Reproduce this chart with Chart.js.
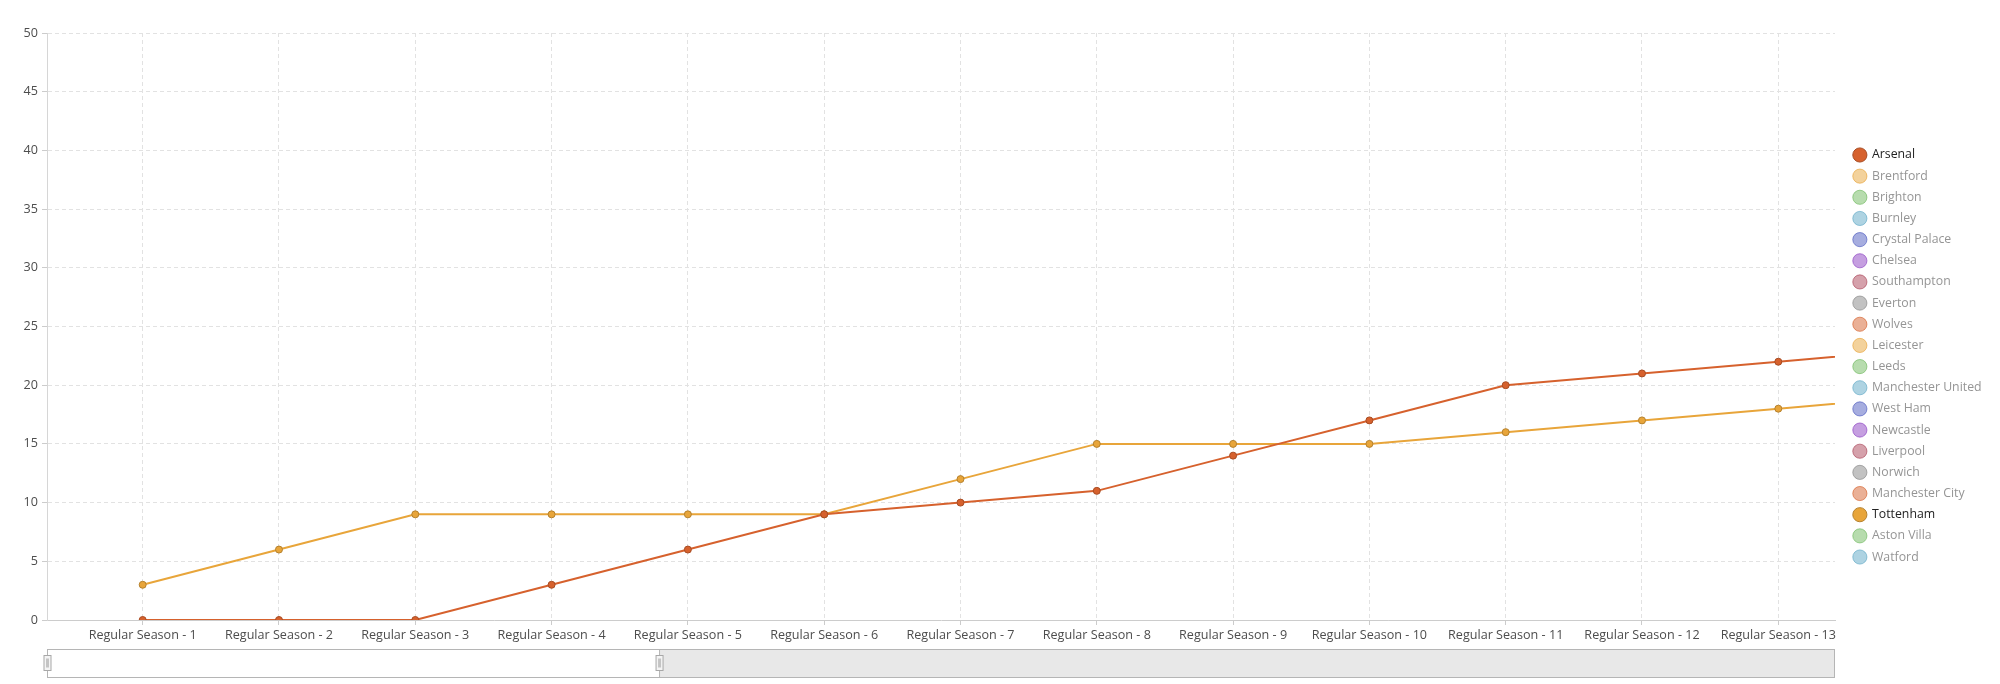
<!DOCTYPE html>
<html>
<head>
<meta charset="utf-8">
<script src="https://cdn.jsdelivr.net/npm/chart.js@4"></script>
<style>
  html, body { margin: 0; padding: 0; background: #fff; }
  #wrap { width: 2000px; height: 684px; position: relative; }
</style>
</head>
<body>
<div id="wrap"><canvas id="chartjs-0" width="2000" height="684"></canvas></div>
<script>
// round numbers on the x axis (14th is just past the visible window)
var rounds = [1, 2, 3, 4, 5, 6, 7, 8, 9, 10, 11, 12, 13, 14];
var roundLabels = ["Regular Season - 1", "Regular Season - 2", "Regular Season - 3", "Regular Season - 4",
  "Regular Season - 5", "Regular Season - 6", "Regular Season - 7", "Regular Season - 8",
  "Regular Season - 9", "Regular Season - 10", "Regular Season - 11", "Regular Season - 12",
  "Regular Season - 13", "Regular Season - 14"];

// cumulative points
var arsenalPts   = [0, 0, 0, 3, 6, 9, 10, 11, 14, 17, 20, 21, 22, 23];
var tottenhamPts = [3, 6, 9, 9, 9, 9, 12, 15, 15, 15, 16, 17, 18, 19];

var teams = ["Arsenal", "Brentford", "Brighton", "Burnley", "Crystal Palace", "Chelsea", "Southampton",
  "Everton", "Wolves", "Leicester", "Leeds", "Manchester United", "West Ham", "Newcastle", "Liverpool",
  "Norwich", "Manchester City", "Tottenham", "Aston Villa", "Watford"];
var palette = ["#d6612d", "#e8a53a", "#6fb95d", "#5da7c5", "#4d5bbf", "#8b3fc1", "#ab4357", "#858585"];
var teamData = { "Arsenal": arsenalPts, "Tottenham": tottenhamPts };

function hexA(hex, a) {
  var r = parseInt(hex.substr(1, 2), 16), g = parseInt(hex.substr(3, 2), 16), b = parseInt(hex.substr(5, 2), 16);
  return "rgba(" + r + "," + g + "," + b + "," + a + ")";
}
function darker(hex) {
  var r = parseInt(hex.substr(1, 2), 16), g = parseInt(hex.substr(3, 2), 16), b = parseInt(hex.substr(5, 2), 16);
  return "rgb(" + Math.round(r * 0.78) + "," + Math.round(g * 0.78) + "," + Math.round(b * 0.78) + ")";
}

var datasets = [];
for (var i = 0; i < teams.length; i++) {
  var c = palette[i % palette.length];
  var vals = teamData[teams[i]] || [];
  var pts = [];
  for (var k = 0; k < vals.length; k++) {
    pts.push({ x: rounds[k], y: vals[k] });
  }
  datasets.push({
    label: teams[i],
    data: pts,
    hidden: !teamData[teams[i]],
    borderColor: c,
    backgroundColor: c,
    borderWidth: 2,
    pointRadius: 3.5,
    pointBorderWidth: 1,
    pointBackgroundColor: c,
    pointBorderColor: darker(c),
    tension: 0,
    clip: { left: 0, top: 10, right: 0, bottom: 0 },
    baseColor: c
  });
}

// scrollbar under the axis (window shows about 13 of 38 rounds)
var scrollbarPlugin = {
  id: "scrollbar",
  afterDraw: function (chart) {
    var ctx = chart.ctx, a = chart.chartArea;
    var top = 649.5, h = 28;
    var left = a.left + 0.5, right = a.right - 0.5;
    var sel = left + (right - left) * 0.3425;
    ctx.save();
    ctx.fillStyle = "#ffffff";
    ctx.fillRect(left, top, sel - left, h);
    ctx.fillStyle = "#e8e8e8";
    ctx.fillRect(sel, top, right - sel, h);
    ctx.strokeStyle = "#b5b5b5";
    ctx.lineWidth = 1;
    ctx.strokeRect(left, top, right - left, h);
    ctx.beginPath();
    ctx.moveTo(sel, top);
    ctx.lineTo(sel, top + h);
    ctx.stroke();
    [left, sel].forEach(function (x) {
      ctx.fillStyle = "#f4f4f4";
      ctx.fillRect(x - 3.5, top + 6, 7, 15);
      ctx.strokeStyle = "#a8a8a8";
      ctx.strokeRect(x - 3.5, top + 6, 7, 15);
      ctx.fillStyle = "#c4c4c4";
      ctx.fillRect(x - 1.5, top + 9, 3, 9);
    });
    ctx.restore();
  }
};

Chart.defaults.font.family = "'Open Sans', sans-serif";
Chart.defaults.font.size = 12;

var ctx0 = document.getElementById("chartjs-0");
var myChart = new Chart(ctx0, {
  type: "line",
  data: { datasets: datasets },
  plugins: [scrollbarPlugin],
  options: {
    responsive: false,
    animation: false,
    layout: { padding: { top: 33, left: 0, right: 0, bottom: 5 } },
    plugins: {
      tooltip: { enabled: false },
      legend: {
        position: "right",
        align: "center",
        onClick: null,
        labels: {
          usePointStyle: true,
          boxWidth: 12,
          boxHeight: 10,
          padding: 8.86,
          font: { size: 12.3 },
          generateLabels: function (chart) {
            return chart.data.datasets.map(function (ds, i) {
              var on = chart.isDatasetVisible(i);
              return {
                text: ds.label,
                fillStyle: on ? ds.baseColor : hexA(ds.baseColor, 0.5),
                strokeStyle: on ? darker(ds.baseColor) : hexA(ds.baseColor, 0.65),
                lineWidth: 1,
                hidden: false,
                fontColor: on ? "#222222" : "#959595",
                pointStyle: "circle",
                datasetIndex: i
              };
            });
          }
        }
      }
    },
    scales: {
      x: {
        type: "linear",
        min: 0.298,
        max: 13.416,
        afterFit: function (s) { s.height = 59; },
        ticks: {
          stepSize: 1,
          includeBounds: false,
          autoSkip: false,
          maxRotation: 0,
          color: "#4d4d4d",
          padding: 3,
          font: { size: 12.6 },
          callback: function (v) { return roundLabels[v - 1] || ""; }
        },
        grid: { color: "#e2e2e2", tickLength: 5, tickColor: "#cccccc", tickBorderDash: [] },
        border: { color: "#cccccc", width: 1, dash: [4, 3] }
      },
      y: {
        min: 0,
        max: 50,
        afterFit: function (s) { s.width = 47; },
        ticks: { stepSize: 5, color: "#4d4d4d", padding: 4, font: { size: 12.6 } },
        grid: { color: "#e2e2e2", tickLength: 5, tickColor: "#cccccc", tickBorderDash: [] },
        border: { color: "#d6d6d6", width: 1, dash: [4, 3] }
      },
      yPad: {
        position: "right",
        afterFit: function (s) { s.width = 10; },
        ticks: { display: false },
        grid: { display: false },
        border: { display: false }
      }
    }
  }
});

// put the right edge of the plot where the reference has it
var diff = myChart.chartArea.right - 1835;
myChart.options.layout.padding.right += diff;
myChart.update("none");
</script>
</body>
</html>
